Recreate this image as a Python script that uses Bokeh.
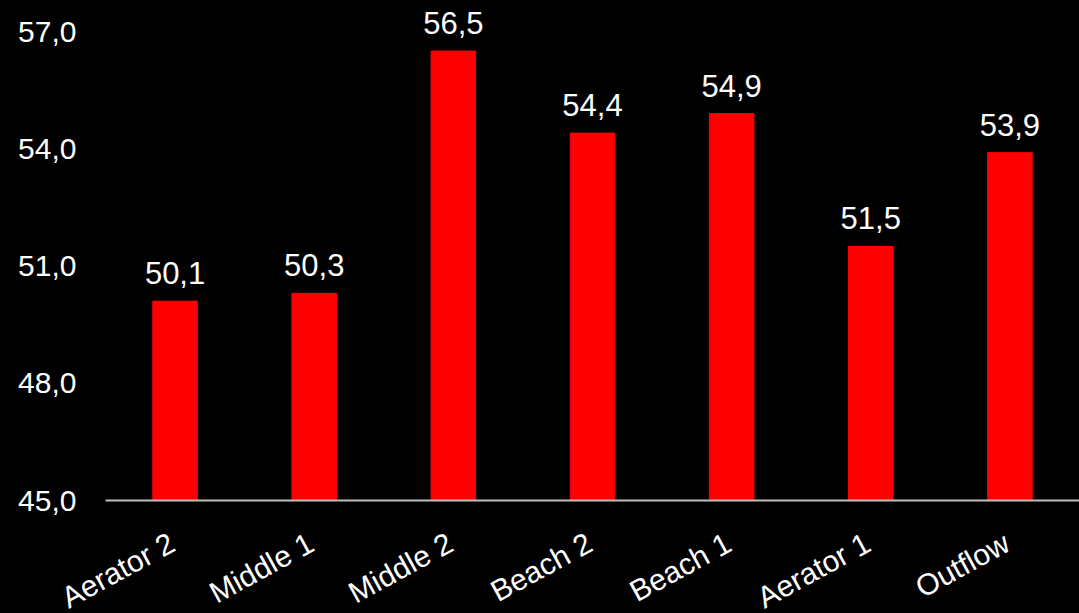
from bokeh.plotting import figure
from bokeh.models import Range1d, ColumnDataSource, LabelSet
from bokeh.core.properties import value
from bokeh.embed import file_html
from bokeh.resources import INLINE

categories = ["Aerator 2", "Middle 1", "Middle 2", "Beach 2", "Beach 1", "Aerator 1", "Outflow"]
values = [50.1, 50.3, 56.5, 54.4, 54.9, 51.5, 53.9]
y_ticks = [45, 48, 51, 54, 57]
y_tick_labels = ["45,0", "48,0", "51,0", "54,0", "57,0"]
y_base = 45

labels = [f"{v:.1f}".replace(".", ",") for v in values]
xpos = [i + 0.5 for i in range(len(categories))]
src = ColumnDataSource(dict(x=xpos, cat=categories, val=values, lab=labels))
tick_src = ColumnDataSource(dict(y=y_ticks, lab=y_tick_labels, x=[0] * len(y_ticks)))

# frame fills the whole canvas; scales chosen so that the plot area is x 105..1079, y 45->500, 57->31
W, H = 1079, 613
left_px = 105
cat_px = (W - left_px) / len(categories)
px_per_unit = 469 / 12.0
x_start = -left_px / cat_px
y_top = 57 + 31 / px_per_unit
y_bot = 45 - 113 / px_per_unit

p = figure(x_range=Range1d(x_start, len(categories)), y_range=Range1d(y_bot, y_top),
           width=W, height=H, output_backend="svg", toolbar_location=None,
           background_fill_color="black", border_fill_color="black",
           min_border_left=0, min_border_right=0, min_border_top=0, min_border_bottom=0)
p.styles = {"background-color": "black"}
p.outline_line_color = None
p.grid.visible = False
p.xaxis.visible = False
p.yaxis.visible = False

p.vbar(x="x", top="val", bottom=y_base, width=0.32, color="#FF0000", source=src)

p.segment(x0=0, x1=len(categories), y0=y_base, y1=y_base, line_color="#BFBFBF", line_width=2)

p.add_layout(LabelSet(x="x", y="val", text="lab", source=src, text_align="center",
                      text_baseline="alphabetic", y_offset=17, text_color="white",
                      text_font=value("Liberation Sans"), text_font_size="31px"))

# category labels, rotated, below the baseline
p.add_layout(LabelSet(x="x", y=y_base, text="cat", source=src, text_align="right",
                      text_baseline="middle", angle=0.5, x_offset=-3, y_offset=-40,
                      text_color="white", text_font=value("Liberation Sans"),
                      text_font_size="30px"))

# y tick labels
p.add_layout(LabelSet(x="x", y="y", text="lab", source=tick_src, text_align="right",
                      text_baseline="middle", x_offset=-29, text_color="white",
                      text_font=value("Liberation Sans"), text_font_size="30px"))

open("out.html", "w").write(file_html(p, INLINE))
